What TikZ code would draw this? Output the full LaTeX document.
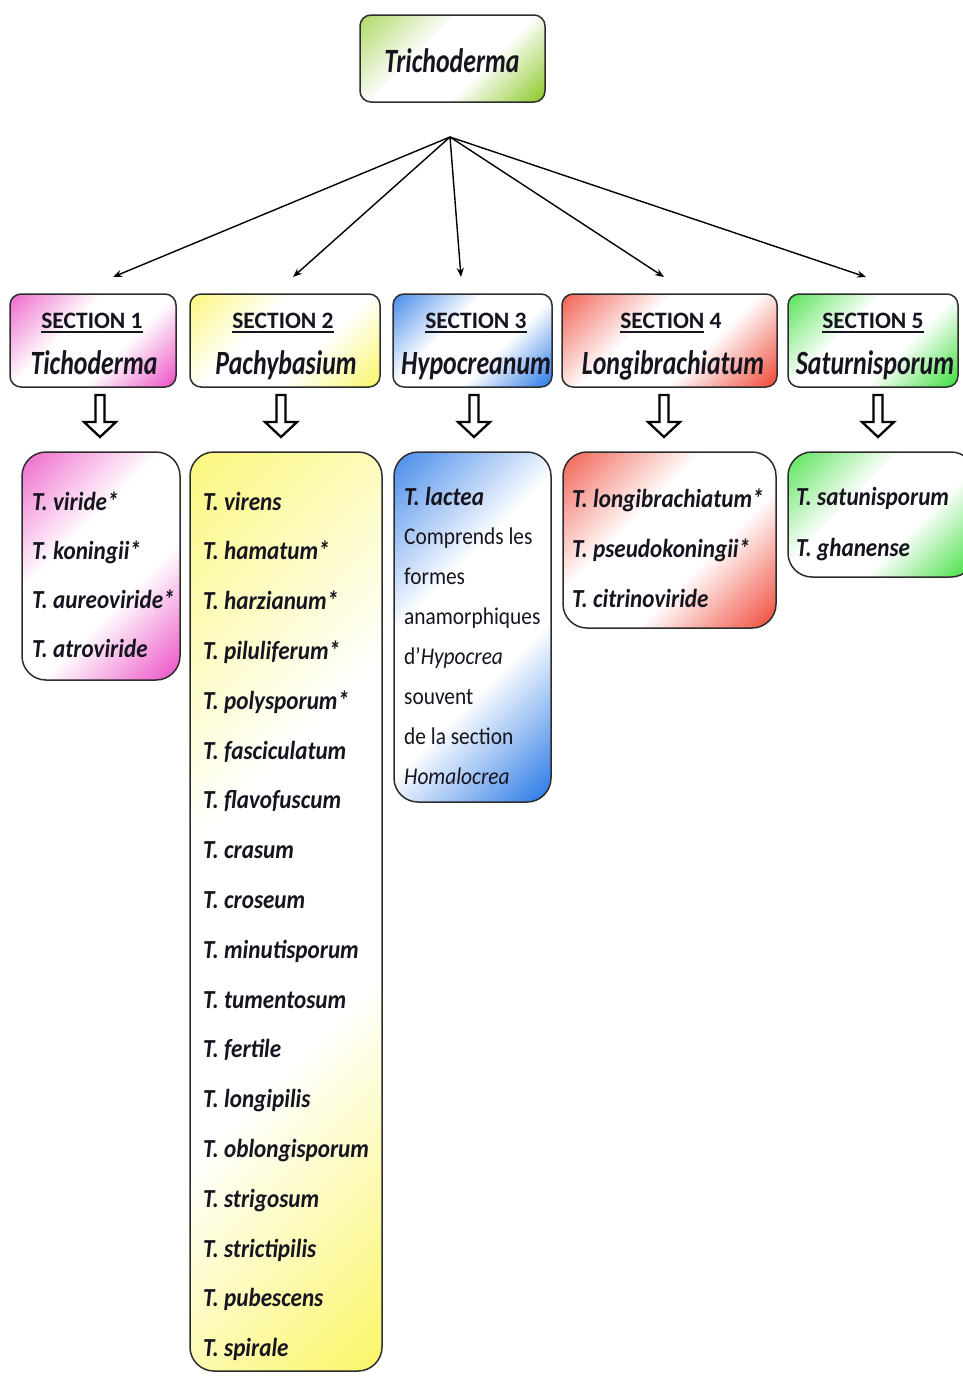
\documentclass[tikz,border=0pt]{standalone}
\usepackage{fontspec}
\setmainfont{Carlito}
\newfontfamily\itemfam[FakeStretch=0.89]{Carlito}
\newfontfamily\namefam[FakeStretch=0.76]{Carlito}
\usetikzlibrary{arrows.meta}
\definecolor{pinkc}{RGB}{236,80,196}
\definecolor{yellowc}{RGB}{250,246,105}
\definecolor{bluec}{RGB}{40,120,230}
\definecolor{redc}{RGB}{240,72,55}
\definecolor{greenc}{RGB}{60,222,60}
\definecolor{topc}{RGB}{140,200,40}
\definecolor{bordc}{RGB}{45,45,45}
\definecolor{txtc}{RGB}{22,20,30}
\pgfdeclarehorizontalshading{pinksh}{100bp}{color(0bp)=(pinkc); color(15bp)=(pinkc!85); color(40bp)=(white); color(60bp)=(white); color(85bp)=(pinkc); color(100bp)=(pinkc)}
\pgfdeclarehorizontalshading{yellowsh}{100bp}{color(0bp)=(yellowc); color(15bp)=(yellowc!85); color(40bp)=(white); color(60bp)=(white); color(85bp)=(yellowc); color(100bp)=(yellowc)}
\pgfdeclarehorizontalshading{bluesh}{100bp}{color(0bp)=(bluec); color(15bp)=(bluec!85); color(40bp)=(white); color(60bp)=(white); color(85bp)=(bluec); color(100bp)=(bluec)}
\pgfdeclarehorizontalshading{redsh}{100bp}{color(0bp)=(redc); color(15bp)=(redc!85); color(40bp)=(white); color(60bp)=(white); color(85bp)=(redc); color(100bp)=(redc)}
\pgfdeclarehorizontalshading{greensh}{100bp}{color(0bp)=(greenc); color(15bp)=(greenc!85); color(40bp)=(white); color(60bp)=(white); color(85bp)=(greenc); color(100bp)=(greenc)}
\pgfdeclarehorizontalshading{topsh}{100bp}{color(0bp)=(topc); color(15bp)=(topc!70); color(40bp)=(white); color(60bp)=(white); color(85bp)=(topc); color(100bp)=(topc)}
\newcommand\secul[1]{\setbox0\hbox{#1}\rlap{\rule[-4.5pt]{\wd0}{1.3pt}}\box0}
\tikzset{
  box/.style={draw=bordc, line width=1.5pt, inner sep=0pt, shade, shading angle=-45},
  headbox/.style={box, rounded corners=11pt, minimum height=93pt},
  listbox/.style={box, rounded corners=24pt},
  secline/.style={anchor=base, inner sep=0pt, text=txtc, font=\bfseries\fontsize{23.5}{23.5}\selectfont},
  namelbl/.style={anchor=base, inner sep=0pt, text=txtc, font=\namefam\bfseries\itshape\fontsize{34}{34}\selectfont},
  item/.style={anchor=base west, inner sep=0pt, text=txtc, font=\itemfam\bfseries\itshape\fontsize{26}{26}\selectfont},
  note/.style={anchor=base west, inner sep=0pt, text=txtc, font=\itemfam\fontsize{24}{24}\selectfont},
  conn/.style={line width=1.4pt, draw=black, -{Stealth[length=9pt,width=7pt]}},
  hollowarrow/.pic={\draw[line width=2.3pt, fill=white, line join=miter] (-4.5,0) -- (-4.5,27) -- (-16,27) -- (0,42) -- (16,27) -- (4.5,27) -- (4.5,0) -- cycle;}
}
\begin{document}
\begin{tikzpicture}[x=1pt,y=-1pt]
\useasboundingbox (0,0) rectangle (962,1376);
% top
\node[box, rounded corners=11pt, shading=topsh, minimum width=185pt, minimum height=87pt] (top) at (452.5,58.5) {};
\node[namelbl] (toplbl) at (452,72) {Trichoderma};
% connectors
\coordinate (hub) at (450,137);
\coordinate (t1) at (113,277);
\coordinate (t2) at (293,277);
\coordinate (t3) at (461,277);
\coordinate (t4) at (664,277);
\coordinate (t5) at (866,277);
\foreach \k in {1,...,5} \draw[conn] (hub) -- (t\k);
% section headers
\node[headbox, shading=pinksh, minimum width=166pt] (h1) at (93,340.5) {};
\node[headbox, shading=yellowsh, minimum width=190pt] (h2) at (285,340.5) {};
\node[headbox, shading=bluesh, minimum width=159pt] (h3) at (472.5,340.5) {};
\node[headbox, shading=redsh, minimum width=215pt] (h4) at (669.5,340.5) {};
\node[headbox, shading=greensh, minimum width=170pt] (h5) at (873,340.5) {};
\node[secline] (h1a) at (92,328) {\secul{SECTION 1}};
\node[secline] (h2a) at (283,328) {\secul{SECTION 2}};
\node[secline] (h3a) at (476,328) {\secul{SECTION 3}};
\node[secline] (h4a) at (671,328) {\secul{SECTION}~4};
\node[secline] (h5a) at (873,328) {\secul{SECTION 5}};
\node[namelbl] (h1b) at (94,374) {Tichoderma};
\node[namelbl] (h2b) at (286,374) {Pachybasium};
\node[namelbl] (h3b) at (476,374) {Hypocreanum};
\node[namelbl] (h4b) at (673,374) {Longibrachiatum};
\node[namelbl] (h5b) at (875,374) {Saturnisporum};
% hollow arrows
\pic (a1) at (100,395) {hollowarrow};
\pic (a2) at (281,395) {hollowarrow};
\pic (a3) at (474,395) {hollowarrow};
\pic (a4) at (664,395) {hollowarrow};
\pic (a5) at (878,395) {hollowarrow};
% list boxes
\node[listbox, shading=pinksh, minimum width=158pt, minimum height=228pt] (l1) at (101,566) {};
\node[listbox, shading=yellowsh, minimum width=192pt, minimum height=919pt] (l2) at (286,911.5) {};
\node[listbox, shading=bluesh, minimum width=157pt, minimum height=350pt] (l3) at (472.5,627) {};
\node[listbox, shading=redsh, minimum width=213pt, minimum height=176pt] (l4) at (669.5,540) {};
\node[listbox, shading=greensh, minimum width=187pt, minimum height=125pt] (l5) at (881.5,514.5) {};
% items
\foreach \t [count=\i] in {T. viride*, T. koningii*, T. aureoviride*, T. atroviride}
  \node[item] (s1-\i) at (32,{510+49*(\i-1)}) {\t};
\foreach \t [count=\i] in {T. virens, T. hamatum*, T. harzianum*, T. piluliferum*, T. polysporum*, T. fasciculatum, T. flavofuscum, T. crasum, T. croseum, T. minutisporum, T. tumentosum, T. fertile, T. longipilis, T. oblongisporum, T. strigosum, T. strictipilis, T. pubescens, T. spirale}
  \node[item] (s2-\i) at (203,{510+49.8*(\i-1)}) {\t};
\node[item] (s3-1) at (404,505) {T. lactea};
\foreach \t [count=\i] in {Comprends les, formes, anamorphiques, d’\textit{Hypocrea}, souvent, de la section, \textit{Homalocrea}}
  \node[note] (s3n-\i) at (404,{544+40*(\i-1)}) {\t};
\foreach \t [count=\i] in {T. longibrachiatum*, T. pseudokoningii*, T. citrinoviride}
  \node[item] (s4-\i) at (572,{507+50*(\i-1)}) {\t};
\foreach \t [count=\i] in {T. satunisporum, T. ghanense}
  \node[item] (s5-\i) at (796,{505+51*(\i-1)}) {\t};
\end{tikzpicture}
\end{document}
